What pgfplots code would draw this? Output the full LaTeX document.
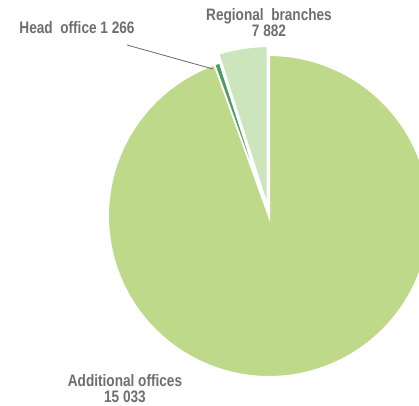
\documentclass[border=0pt]{standalone}
\usepackage{pgfplots}
\pgfplotsset{compat=1.18}
\usetikzlibrary{calc}
\usepackage{fontspec}
\setmainfont{Liberation Sans}[FakeStretch=0.82]
\definecolor{mainG}{HTML}{BDD989}
\definecolor{regG}{HTML}{CDE5BD}
\definecolor{headG}{HTML}{4A9E5C}
\definecolor{txt}{HTML}{6E6E6E}
% slice shares (percent of the circle)
\def\shareReg{4.95}
\def\shareHead{0.55}
\def\shareAdd{94.50}
\pgfmathsetmacro\aA{90}
\pgfmathsetmacro\aB{90+3.6*\shareReg}
\pgfmathsetmacro\aC{\aB+3.6*\shareHead}
\pgfmathsetmacro\aD{\aC+3.6*\shareAdd}
\pgfmathsetmacro\mReg{(\aA+\aB)/2}
\def\R{1.61in}
\begin{document}
\begin{tikzpicture}
\begin{axis}[scale only axis, width=4.19in, height=4.06in,
  xmin=0, xmax=419, ymin=0, ymax=406, hide axis, clip=true]
\addplot[draw=none] coordinates {(0,0) (419,406)};
% Additional offices
\fill[mainG, draw=white, line width=1.5pt] (axis cs:269,190) -- ++(\aC:\R) arc[start angle=\aC, end angle=\aD, radius=\R] -- cycle;
% Head office
\fill[headG, draw=white, line width=1.2pt] (axis cs:269,190) -- ++(\aB:\R) arc[start angle=\aB, end angle=\aC, radius=\R] -- cycle;
% Regional branches (exploded)
\fill[regG, draw=white, line width=1.5pt] ($(axis cs:269,190)+(\mReg:0.09in)$) coordinate (rc) -- ++(\aA:\R) arc[start angle=\aA, end angle=\aB, radius=\R] -- cycle;
\draw[txt, line width=0.6pt] (axis cs:127,361) -- (axis cs:213,337);
\node[txt, font=\bfseries\fontsize{12}{11.5}\selectfont] at (axis cs:77,378) {Head\ \ office 1 266};
\node[txt, font=\bfseries\fontsize{12}{11.5}\selectfont, align=center] at (axis cs:269,383) {Regional\ \ branches\\7 882};
\node[txt, font=\bfseries\fontsize{12}{11.5}\selectfont, align=center] at (axis cs:125,17) {Additional offices\\15 033};
\end{axis}
\end{tikzpicture}
\end{document}
